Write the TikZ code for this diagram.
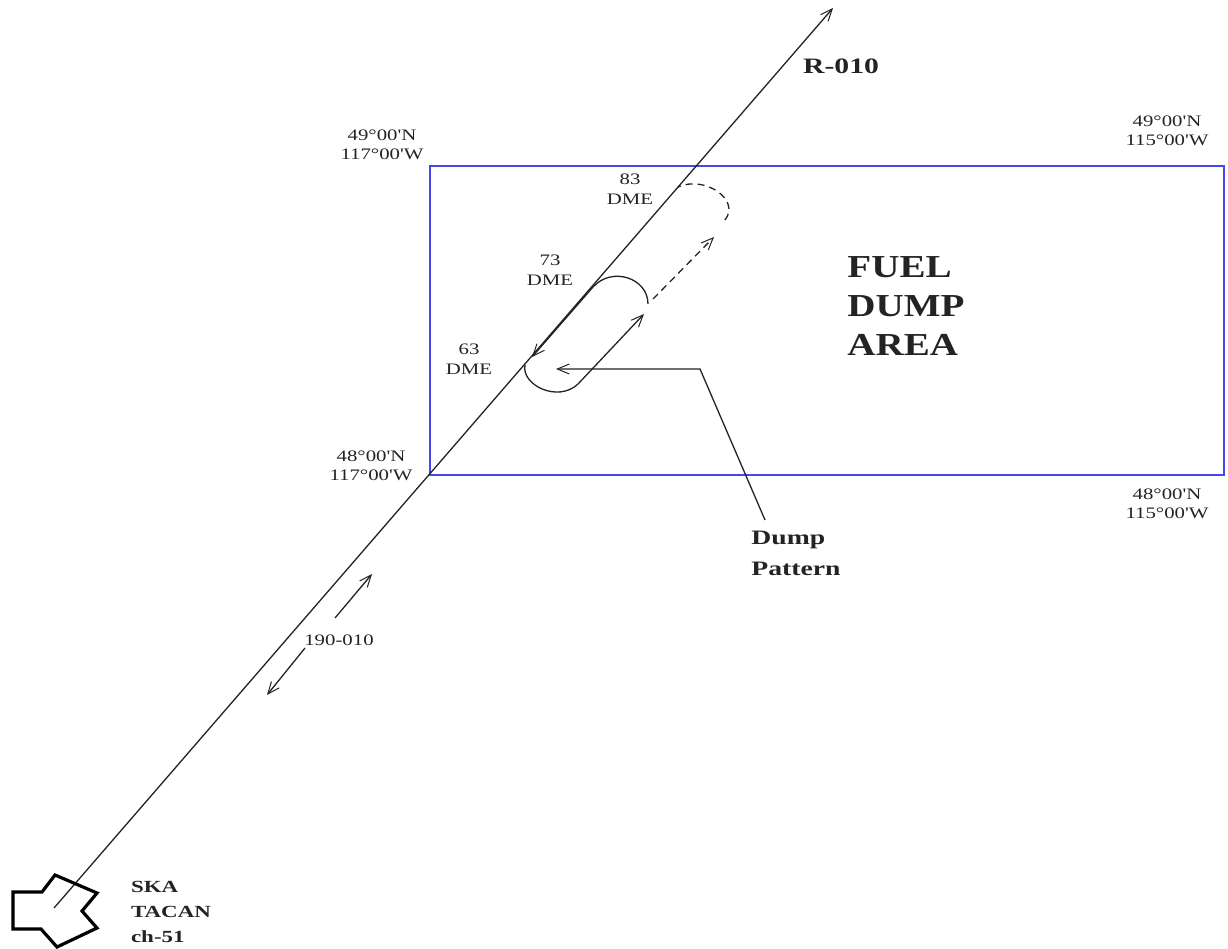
\documentclass[tikz,border=0pt]{standalone}
\usepackage{fontspec}
\setmainfont{Liberation Serif}
\newfontfamily\widea[FakeStretch=1.3]{Liberation Serif}
\newfontfamily\wideb[FakeStretch=1.3,BoldFont={Liberation Serif Bold}]{Liberation Serif}
\newfontfamily\widec[FakeStretch=1.22]{Liberation Serif Bold}
\newfontfamily\wided[FakeStretch=1.35]{Liberation Serif Bold}
\usetikzlibrary{arrows.meta}
\definecolor{rectblue}{RGB}{70,70,235}
\definecolor{ink}{RGB}{35,35,35}
\tikzset{
  ln/.style={draw=ink,line width=1.3pt},
  tip/.style={-{Straight Barb[length=12pt,width=10pt,line width=1pt]}},
  dsh/.style={dash pattern=on 7pt off 5pt},
  lbl/.style={inner sep=0pt,align=center,text=ink,font=\widea\fontsize{16}{19.5}\selectfont},
  med/.style={inner sep=0pt,align=left,text=ink,font=\wided\fontsize{20.5}{31}\selectfont},
  small/.style={inner sep=0pt,align=left,text=ink,font=\wided\fontsize{17}{25}\selectfont},
  big/.style={inner sep=0pt,align=left,text=ink,font=\widec\fontsize{32}{39}\selectfont}
}
\begin{document}
\begin{tikzpicture}[x=1pt,y=-1pt]
\useasboundingbox (0,0) rectangle (1228,949);
\node[draw=rectblue,line width=2pt,minimum width=794pt,minimum height=309pt,inner sep=0pt,anchor=north west] (area) at (429,165) {};
% main radial
\coordinate (start) at (54,908);
\coordinate (end) at (833,8);
\draw[ln,tip] (start) -- (end);
% TACAN
\draw[draw=black,line width=3.2pt,line join=miter] (13,892) -- (42,892) -- (55,875) -- (97,893) -- (82,911) -- (97,928) -- (57,947) -- (41,929) -- (13,929) -- cycle;
% Pattern
\coordinate (a1) at (525,365);
\coordinate (a2) at (578,384);
\coordinate (a3) at (644,314);
\coordinate (a4) at (648,304);
\coordinate (a5) at (593,287);
\coordinate (b1) at (653,299);
\coordinate (b2) at (714,237);
\coordinate (b3) at (725,220);
\coordinate (b4) at (678,187);
\draw[ln,tip] (a5) -- (532,357);
\draw[ln] (a1) .. controls (521,385) and (558,403) .. (a2);
\draw[ln,tip] (a2) -- (a3);
\draw[ln] (a4) .. controls (648,278) and (612,266) .. (a5);
\draw[ln,dsh,tip] (b1) -- (b2);
\draw[ln,dsh] (b3) .. controls (741,200) and (705,175) .. (b4);
% Dump pattern leader
\node[med] (dump) at (796,553) {Dump\\Pattern};
\coordinate (leadend) at (765,520);
\coordinate (bend) at (700,369);
\coordinate (ltip) at (556,369);
\draw[ln,tip] (leadend) -- (bend) -- (ltip);
% 190-010
\coordinate (p1) at (335,618);
\coordinate (p2) at (372,574);
\coordinate (q1) at (305,648);
\coordinate (q2) at (267,695);
\draw[ln,tip] (p1) -- (p2);
\draw[ln,tip] (q1) -- (q2);
\node[lbl] (l190) at (339,640) {190-010};
% Labels
\node[med,font=\wided\fontsize{22}{26}\selectfont] (r010) at (841,66) {R-010};
\node[big] (fuel) at (906,306) {FUEL\\DUMP\\AREA};
\node[lbl] (d83) at (630,189) {83\\DME};
\node[lbl] (d73) at (550,270) {73\\DME};
\node[lbl] (d63) at (469,359) {63\\DME};
\node[lbl] (nw) at (382,145) {49°00'N\\117°00'W};
\node[lbl] (ne) at (1167,131) {49°00'N\\115°00'W};
\node[lbl] (sw) at (371,466) {48°00'N\\117°00'W};
\node[lbl] (se) at (1167,504) {48°00'N\\115°00'W};
\node[small] (ska) at (171,912) {SKA\\TACAN\\ch-51};
\end{tikzpicture}
\end{document}
